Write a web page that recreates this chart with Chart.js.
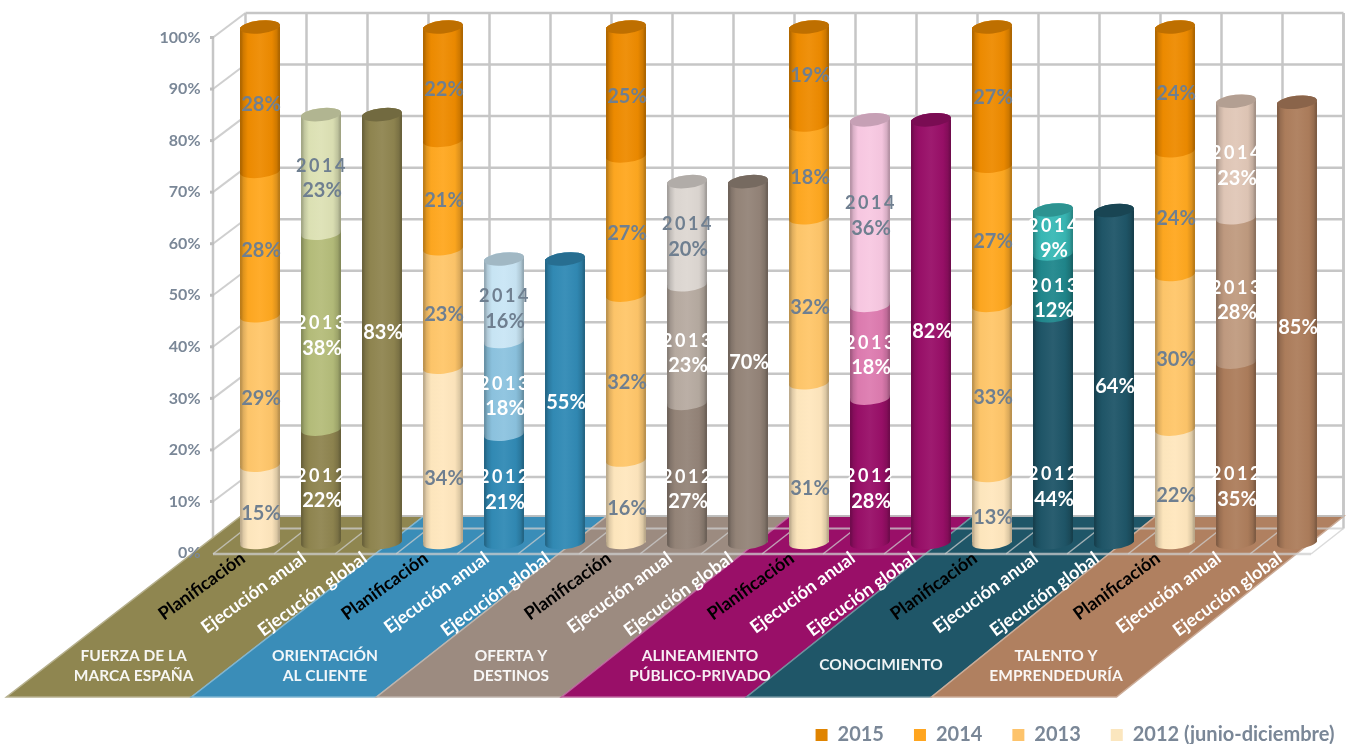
<!DOCTYPE html>
<html><head><meta charset="utf-8">
<script src="https://cdn.jsdelivr.net/npm/chart.js@4"></script>
<style>html,body{margin:0;padding:0;background:#fff}#w{width:1354px;height:744px}canvas{display:block}</style>
</head><body><div id="w"><canvas id="c" width="1354" height="744"></canvas></div>
<script>
const groupLines=[['FUERZA DE LA','MARCA ESPAÑA'],['ORIENTACIÓN','AL CLIENTE'],['OFERTA Y','DESTINOS'],['ALINEAMIENTO','PÚBLICO-PRIVADO'],['CONOCIMIENTO'],['TALENTO Y','EMPRENDEDURÍA']];
const barTypes=['Planificación','Ejecución anual','Ejecución global'];
const categories=groupLines.flatMap(()=>barTypes);
const tickLabels=[0,10,20,30,40,50,60,70,80,90,100];
const values2012=[15,22,83, 34,21,55, 16,27,70, 31,28,82, 13,44,64.4, 22,35,85.4];
const values2013=[29,38,null, 23,18,null, 32,23,null, 32,18,null, 33,12,null, 30,28,null];
const values2014=[28,23,null, 21,16,null, 27,20,null, 18,36,null, 27,8.5,null, 24,22.6,null];
const values2015=[28,null,null, 22,null,null, 25,null,null, 19,null,null, 27,null,null, 24,null,null];
const yearNames=['2012','2013','2014','2015'];
const seriesNames=['2012 (junio-diciembre)','2013','2014','2015'];
const legendColors=['#FBE6BE','#FDC36B','#FFA51F','#E08400'];
const planColors=['#FFE7BE','#FFC66A','#FFA820','#EE8B00'];
const themeDark=['#8F8550','#318AB5','#948478','#990F68','#1F5668','#AD7D5C'];
const themeMid=['#B5BD7A','#8CC3DF','#B7ABA1','#DD7BB0','#20878C','#C09B80'];
const themeLight=['#DDE2B5','#C9E6F5','#DDD7D2','#F8C8E2','#38B8B5','#E0C7B7'];
const floorColors=['#8F8650','#3A8DB8','#9C8B80','#990F68','#1F5668','#B08060'];
const labelGray='#6F7F90';

function colorsFor(ds){
  const out=[];
  groupLines.forEach((g,gi)=>{
    out.push(planColors[ds]);
    out.push([themeDark,themeMid,themeLight,themeLight][ds][gi]);
    out.push(themeDark[gi]);
  });
  return out;
}
function shade(hex,f){
  const n=parseInt(hex.slice(1),16);
  const ch=s=>{const v=(n>>s)&255;return Math.round(f<=1?v*f:v+(255-v)*(f-1));};
  return `rgb(${ch(16)},${ch(8)},${ch(0)})`;
}
const TILT=-0.11, RY=6.5;
const BACK_DX=16, BACK_DY=-14, FRONT_DY=10.5;
const FLOOR_TOP_DY=-26.5, FLOOR_BOTTOM_Y=697, FLOOR_LEFT_BOTTOM=6.5, FLOOR_STEP_BOTTOM=185, FLOOR_TOP_LEFT=11.5;
const GROUP_CX=[133.6,325,511,700,881,1056];
// vertical label placement adjustments, per dataset and bar kind (by group)
const LABEL_NUDGE=[
  {plan:[7,21,4,23,6,7],anual:[1,0,15,17,56,33],global:[4,2,0,0,10,5]},
  {plan:[5,4,2,4,4,5],anual:[3,7,8,2,12,9]},
  {plan:[4,3,5,3,3,3],anual:[3,7,2,2,5,5]},
  {plan:[2,3,2,-3,-2,2]}
];
const noPad=s=>{s.paddingTop=0;s.paddingBottom=0;s.paddingLeft=0;s.paddingRight=0;};

const scene={
  id:'scene',
  afterLayout(c){
    const l=c.legend;
    l.top+=11;l.bottom+=11;l.right+=37;l.left+=37;
  },
  beforeDraw(c){
    const g=c.ctx,x=c.scales.x,y=c.scales.y,A=c.chartArea,step=x.width/categories.length;
    g.save();
    g.fillStyle='#fff';g.fillRect(0,0,c.width,c.height);
    const line='#C6C6C6';
    const seg=(a,b,d,e,w,col)=>{g.lineWidth=w||2.5;g.strokeStyle=col||line;g.beginPath();g.moveTo(a,b);g.lineTo(d,e);g.stroke();};
    const bx=A.left+BACK_DX, fx=bx-32.5;
    const by=v=>y.getPixelForValue(v)+BACK_DY, fy=v=>y.getPixelForValue(v)+FRONT_DY;
    const floorTop=y.getPixelForValue(0)+FLOOR_TOP_DY;
    tickLabels.forEach(v=>{
      if(v>0) seg(bx,by(v),bx+step*categories.length,by(v));
      seg(fx,fy(v),bx,by(v),2,'#CFCFCF');
    });
    for(let k=0;k<=categories.length;k++) seg(bx+k*step,by(100),bx+k*step,Math.min(by(0),floorTop));
    seg(bx+step*categories.length,by(100),bx+step*categories.length,by(0));
    seg(fx,fy(100),fx,fy(0));
    tickLabels.forEach(v=>{g.fillStyle='#BDBDBD';g.fillRect(fx-3,fy(v)-1.5,4,3);});
    const topX=i=>A.left+FLOOR_TOP_LEFT+i*3*step+(i===6?5:0);
    const botX=i=>FLOOR_LEFT_BOTTOM+i*FLOOR_STEP_BOTTOM;
    floorColors.forEach((col,i)=>{
      g.beginPath();g.moveTo(topX(i),floorTop);g.lineTo(topX(i+1),floorTop);g.lineTo(botX(i+1),FLOOR_BOTTOM_Y);g.lineTo(botX(i),FLOOR_BOTTOM_Y);g.closePath();
      g.fillStyle=col;g.fill();
      g.strokeStyle=shade(col,1.35);g.lineWidth=1.5;g.stroke();
    });
    seg(topX(0),floorTop,topX(6),floorTop,2,'rgba(190,190,190,.9)');
    const soft='rgba(205,205,205,.75)';
    seg(bx,by(0),bx+step*categories.length,by(0),2,soft);
    seg(fx,fy(0)+1,fx+step*categories.length,fy(0)+1,2.5,soft);
    for(let k=0;k<=categories.length;k++) seg(fx+k*step,fy(0)+1,bx+k*step,by(0),1.5,soft);
    g.font='bold 15.5px Lato';g.textAlign='center';g.textBaseline='middle';g.fillStyle='rgba(255,255,255,.93)';
    groupLines.forEach((ls,i)=>{
      const ys=ls.length===2?[656,676]:[665];
      ls.forEach((t,j)=>g.fillText(t,GROUP_CX[i],ys[j]));
    });
    g.restore();
  },
  afterDatasetsDraw(c){
    const g=c.ctx,n=c.data.datasets.length;
    g.save();
    const tops={};
    for(let d=0;d<n;d++){
      const ds=c.data.datasets[d],meta=c.getDatasetMeta(d);
      meta.data.forEach((el,i)=>{
        if(ds.data[i]==null) return;
        const cx=el.x,rx=el.width/2,col=ds.backgroundColor[i];
        const gr=g.createLinearGradient(cx-rx,0,cx+rx,0);
        gr.addColorStop(0,shade(col,.68));gr.addColorStop(.09,shade(col,.88));gr.addColorStop(.2,shade(col,.99));
        gr.addColorStop(.5,shade(col,1.05));gr.addColorStop(.8,shade(col,.98));gr.addColorStop(.92,shade(col,.86));gr.addColorStop(1,shade(col,.66));
        g.beginPath();
        g.ellipse(cx,el.base,rx,RY,TILT,0,Math.PI,false);
        g.ellipse(cx,el.y,rx,RY,TILT,Math.PI,0,false);
        g.closePath();g.fillStyle=gr;g.fill();
        tops[i]={el,col};
      });
    }
    Object.values(tops).forEach(({el,col})=>{
      g.beginPath();g.ellipse(el.x,el.y,el.width/2,RY,TILT,0,Math.PI*2);
      g.fillStyle=shade(col,.8);g.fill();
    });
    g.textAlign='center';g.textBaseline='middle';
    for(let d=0;d<n;d++){
      const ds=c.data.datasets[d],meta=c.getDatasetMeta(d);
      meta.data.forEach((el,i)=>{
        const v=ds.data[i];
        if(v==null) return;
        const kind=i%3,gi=Math.floor(i/3),pct=Math.round(v)+'%';
        const nudge=LABEL_NUDGE[d][['plan','anual','global'][kind]][gi];
        const yc=(el.y+el.base)/2+nudge;
        g.font='bold 20px Lato';
        if(kind===0){
          g.letterSpacing='0px';g.fillStyle=labelGray;g.fillText(pct,el.x+1,yc+3);
        }else if(kind===2){
          g.letterSpacing='0px';g.fillStyle='#fff';g.fillText(pct,el.x+1,yc);
        }else{
          g.fillStyle=(d===2&&gi<4)?labelGray:'#fff';
          g.letterSpacing='2.5px';g.font='bold 18px Lato';g.fillText(yearNames[d],el.x+1,yc-11);
          g.letterSpacing='0px';g.font='bold 20px Lato';g.fillText(pct,el.x+1,yc+14);
        }
      });
    }
    g.restore();
  }
};

new Chart(document.getElementById('c'),{
  type:'bar',
  data:{labels:categories,datasets:[values2012,values2013,values2014,values2015].map((vals,d)=>({
    label:seriesNames[d],data:vals,backgroundColor:colorsFor(d),legendColor:legendColors[d],borderWidth:0,
    barPercentage:40/61,categoryPercentage:1
  }))},
  options:{
    responsive:false,animation:false,devicePixelRatio:1,
    layout:{padding:{top:27,left:0,right:26.5,bottom:0}},
    plugins:{
      tooltip:{enabled:false},
      legend:{position:'bottom',align:'end',reverse:false,
        labels:{boxWidth:12,boxHeight:12,padding:30,color:'#7A8797',font:{family:'Lato',size:20,weight:'bold'},
          generateLabels:ch=>ch.data.datasets.map((d,i)=>({text:d.label,fillStyle:d.legendColor,strokeStyle:'transparent',lineWidth:0,hidden:false,datasetIndex:i,fontColor:'#7A8797'})).reverse()}}
    },
    scales:{
      x:{stacked:true,grid:{display:false,drawTicks:false},border:{display:false},
        afterFit:s=>{s.height=141.5;noPad(s);},
        ticks:{autoSkip:false,minRotation:36,maxRotation:36,padding:5,labelOffset:-17,
          color:ctx=>ctx.index%3===0?'#000':'#fff',font:{family:'Lato',size:18,weight:'bold'}}},
      y:{stacked:true,min:0,max:100,grid:{display:false,drawTicks:false},border:{display:false},
        afterFit:s=>{s.width=229.5;noPad(s);},
        ticks:{stepSize:10,padding:29,labelOffset:FRONT_DY,color:'#7A8797',font:{family:'Lato',size:16,weight:'bold'},callback:v=>v+'%'}}
    }
  },
  plugins:[scene]
});
</script></body></html>
